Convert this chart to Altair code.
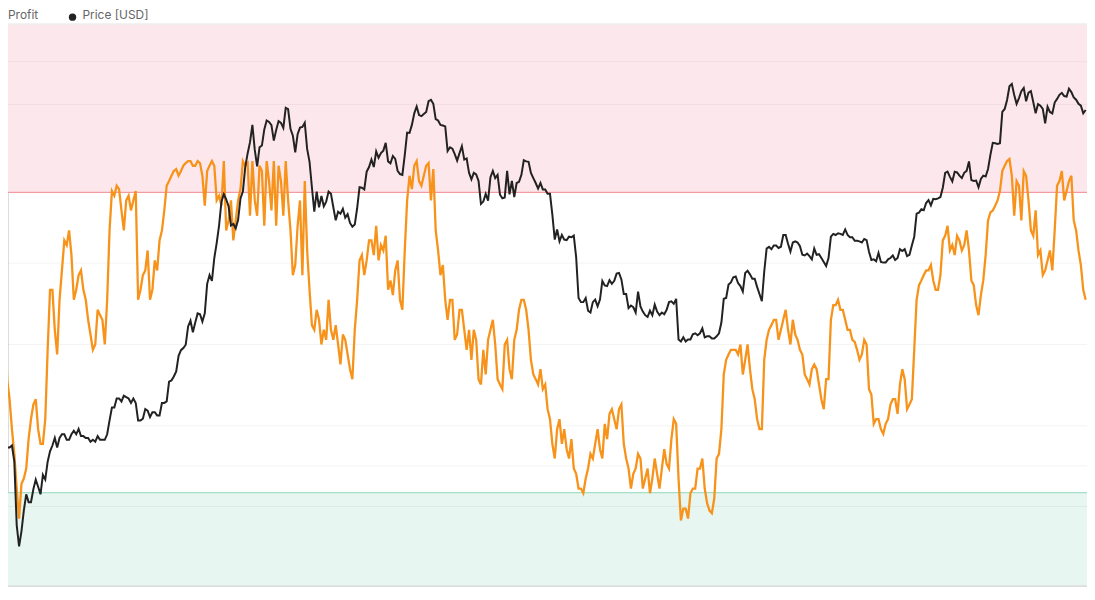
import altair as alt
import pandas as pd

# Weekly samples, starting 2020-02-16 (values at week start, and half a week later)
week_start = "2020-02-16"

price_usd = [
    10000, 9700, 8800, 8100, 4950, 6100, 6400, 6900, 7000, 7500,
    8100, 8900, 8800, 9500, 9200, 9500, 9500, 9400, 9300, 9100,
    9100, 9200, 9200, 10300, 11100, 11700, 11900, 11700, 11700, 10300,
    10400, 10900, 10800, 10600, 11400, 11500, 13000, 13700, 15500, 16000,
    18400, 18200, 19100, 19200, 24000, 26500, 32000, 38400, 35800, 32300,
    33100, 39000, 48700, 57500, 45200, 51000, 59000, 57400, 55800, 58200,
    63500, 56200, 49000, 56600, 58200, 46400, 34700, 35600, 35800, 39000,
    35600, 34700, 35300, 34200, 31800, 35400, 39900, 43800, 47000, 49300,
    48800, 51800, 46000, 47200, 43200, 48200, 54900, 61500, 60900, 61300,
    66000, 65000, 59000, 57300, 49400, 50100, 46700, 50800, 47300, 41900,
    43100, 36300, 38500, 42400, 42200, 38300, 37700, 38400, 37800, 41300,
    46800, 46400, 42200, 39700, 39500, 38500, 34100, 31300, 30300, 29400,
    29900, 26600, 20500, 21000, 19300, 20800, 20800, 22600, 23300, 23200,
    24300, 21500, 19800, 19900, 21800, 19400, 18800, 19000, 19400, 19300,
    19600, 20600, 20900, 16300, 16300, 16500, 17100, 17100, 16700, 16800,
    16600, 17100, 20900, 22700, 23700, 22900, 21800, 24600, 23500, 22400,
    20600, 28000, 27900, 28500, 28300, 30300, 27500, 29200, 28400, 26900,
    26800, 28000, 27100, 25900, 26500, 30500, 30600, 30300, 30300, 29900,
    29300, 29000, 29400, 26200, 26000, 25900, 25800, 26500, 26200, 27900,
    27900, 27000, 30000, 34500, 35000, 37100, 37400, 37500, 39900, 43800,
    41400, 43600, 42200, 44000, 41700, 41600, 42000, 42600, 48300, 51700,
    51700, 63100, 72000, 68400, 67200, 71300, 69400, 65700, 64900, 63100,
    63900, 61500, 66900, 69300, 67800, 69600, 66600, 64300, 62700,
]

price_midweek_usd = [
    10100, 8800, 8900, 5600, 5400, 6700, 6400, 7300, 6700, 7300,
    8600, 9300, 9300, 9500, 9200, 9700, 9800, 9400, 9300, 9200,
    9400, 9200, 9500, 11100, 11700, 11500, 11800, 11400, 11400, 10300,
    11000, 10500, 10800, 10600, 11400, 12900, 13300, 15000, 15700, 17800,
    17200, 19200, 18300, 22800, 23200, 28900, 36800, 37300, 32000, 31500,
    37500, 45000, 52000, 49700, 50500, 56000, 58500, 52500, 58800, 56500,
    63000, 54000, 54500, 56800, 50000, 40000, 39000, 38000, 36800, 38500,
    33000, 34300, 33500, 32500, 32200, 40000, 39500, 45000, 45000, 47500,
    49500, 46500, 48000, 44000, 43000, 55000, 57500, 64000, 60500, 62000,
    66500, 59500, 57500, 57000, 50500, 48500, 48800, 47000, 43500, 43500,
    41500, 36800, 37000, 44000, 43000, 37500, 44000, 41500, 41000, 43000,
    46500, 43500, 41000, 41000, 39500, 38500, 29500, 29200, 29500, 30000,
    30200, 21000, 20500, 19500, 20500, 20000, 23200, 22500, 22800, 24200,
    23400, 21500, 20100, 19300, 20000, 19000, 19500, 20200, 19000, 19100,
    20500, 20300, 16500, 16700, 16500, 17000, 16900, 17600, 16800, 16600,
    16800, 18200, 21000, 23000, 23800, 22500, 24300, 24100, 23500, 21500,
    24500, 28300, 28500, 28100, 30300, 28800, 29000, 29000, 27000, 27200,
    26300, 27000, 26500, 25300, 30000, 30300, 30500, 31300, 29900, 29300,
    29200, 29600, 27500, 26300, 27300, 25800, 26300, 26900, 26500, 27600,
    26800, 28500, 34300, 35200, 36500, 36000, 37300, 37800, 43500, 42500,
    43800, 42800, 43500, 46500, 41500, 40000, 42800, 44500, 51800, 51500,
    62000, 66500, 73000, 65000, 70000, 66000, 70000, 61500, 64300, 58000,
    62000, 65500, 68500, 68000, 71000, 67500, 65000, 61500,
]

supply_in_profit_pct = [
    86.3, 78.9, 64.0, 55.8, 46.1, 52.1, 58.0, 63.2, 59.5, 57.3,
    71.4, 80.4, 70.7, 83.3, 87.1, 85.6, 80.4, 83.3, 78.9, 73.7,
    72.2, 76.6, 72.2, 89.3, 94.5, 95.5, 89.3, 94.5, 93.8, 78.9,
    82.6, 86.3, 80.4, 83.3, 89.3, 96.0, 97.5, 98.5, 98.2, 99.4,
    99.7, 99.0, 99.4, 93.0, 99.0, 99.0, 94.5, 99.7, 90.8, 87.8,
    93.8, 99.7, 99.4, 99.7, 91.5, 98.2, 99.7, 92.3, 90.0, 96.7,
    99.7, 89.3, 84.1, 93.8, 96.7, 80.4, 74.4, 75.9, 74.4, 78.9,
    72.9, 72.2, 73.7, 70.7, 67.0, 78.9, 85.6, 84.8, 87.8, 90.0,
    87.1, 88.5, 81.8, 83.3, 78.9, 86.3, 97.5, 99.0, 96.7, 97.5,
    99.4, 98.5, 86.3, 84.1, 75.9, 78.9, 73.7, 77.4, 71.4, 69.9,
    72.9, 66.2, 67.7, 74.4, 72.2, 66.2, 72.2, 68.5, 72.9, 77.4,
    78.9, 74.4, 67.7, 66.2, 65.5, 62.5, 57.3, 59.5, 57.3, 56.5,
    58.0, 52.8, 50.6, 52.1, 55.8, 57.3, 56.5, 60.3, 61.8, 61.0,
    62.5, 57.3, 53.6, 52.8, 55.8, 50.6, 53.6, 52.1, 52.8, 53.6,
    54.3, 58.0, 60.3, 45.8, 47.6, 49.9, 50.6, 53.6, 50.6, 47.3,
    49.1, 55.8, 67.7, 70.7, 71.4, 70.7, 67.7, 72.2, 65.5, 61.0,
    59.5, 72.9, 75.1, 75.9, 74.4, 77.4, 72.2, 73.7, 71.4, 67.7,
    66.2, 69.2, 66.2, 62.5, 67.0, 78.1, 78.9, 77.4, 74.4, 72.9,
    71.4, 70.7, 72.2, 64.7, 61.0, 59.5, 60.3, 63.2, 64.0, 66.2,
    67.0, 63.2, 71.4, 81.1, 82.6, 83.3, 81.8, 80.4, 87.8, 90.0,
    87.1, 88.5, 86.3, 89.3, 81.8, 78.1, 79.6, 85.6, 92.0, 93.0,
    95.2, 99.0, 100.0, 91.5, 96.0, 98.2, 93.8, 88.5, 85.6, 82.6,
    84.8, 83.3, 96.0, 98.2, 95.2, 97.5, 89.3, 84.1, 78.9,
]

supply_in_profit_midweek_pct = [
    83.3, 67.0, 59.5, 50.6, 51.3, 53.6, 61.0, 64.0, 57.3, 61.0,
    80.4, 74.4, 78.9, 87.8, 89.3, 78.9, 82.6, 80.4, 75.9, 71.4,
    77.4, 75.9, 78.9, 95.2, 96.0, 92.3, 93.8, 92.3, 95.2, 80.4,
    83.3, 78.9, 84.8, 87.8, 92.3, 96.7, 98.2, 97.5, 99.0, 99.7,
    99.0, 99.7, 97.5, 98.2, 99.7, 93.8, 93.0, 89.3, 93.8, 90.8,
    95.5, 99.0, 91.5, 93.8, 99.0, 90.0, 96.7, 99.7, 99.0, 91.5,
    93.8, 82.6, 90.0, 82.6, 86.3, 75.1, 77.4, 72.2, 72.9, 74.4,
    75.1, 69.2, 72.9, 68.5, 74.4, 84.8, 82.6, 87.8, 85.6, 84.8,
    86.3, 80.4, 79.6, 84.8, 77.4, 93.8, 95.5, 99.7, 96.0, 99.0,
    93.8, 89.3, 82.6, 78.9, 78.9, 72.9, 77.4, 74.4, 74.4, 74.4,
    67.0, 71.4, 72.9, 75.9, 67.0, 65.5, 72.9, 67.0, 74.4, 78.9,
    77.4, 69.9, 67.0, 68.5, 66.2, 61.0, 55.1, 61.0, 59.5, 55.1,
    53.6, 50.6, 49.9, 53.6, 55.1, 59.5, 55.1, 58.0, 62.5, 59.5,
    63.2, 55.1, 50.6, 53.6, 55.1, 52.1, 49.9, 55.1, 50.6, 56.5,
    53.6, 61.0, 52.1, 47.6, 46.1, 50.6, 53.6, 55.1, 48.4, 46.9,
    55.1, 59.5, 69.9, 71.4, 71.4, 72.2, 69.9, 68.5, 64.0, 59.5,
    69.9, 74.4, 75.9, 72.9, 75.9, 74.4, 75.9, 72.9, 70.7, 67.0,
    68.5, 68.5, 64.0, 67.0, 75.9, 78.1, 77.4, 75.9, 74.4, 72.6,
    69.9, 72.9, 65.5, 60.3, 61.0, 58.8, 61.0, 64.0, 61.8, 68.5,
    62.5, 64.0, 78.9, 81.8, 83.3, 84.1, 80.4, 82.6, 88.5, 86.3,
    85.6, 87.8, 87.1, 86.3, 81.1, 76.6, 81.8, 90.8, 92.3, 93.8,
    98.2, 99.7, 97.5, 96.7, 90.8, 97.5, 89.3, 92.3, 86.3, 83.3,
    86.3, 89.3, 96.7, 93.8, 96.7, 90.8, 86.3, 80.4,
]

# Zones on the % supply-in-profit scale
zone_names = ["euphoria", "capitulation"]
zone_low = [95.0, 36.0]
zone_high = [120.24, 50.0]
threshold_levels = [95.0, 50.0]
grid_levels = [47.9, 54.0, 60.0, 72.2, 84.4, 108.2, 114.6]

legend_labels = ["Profit", "Price [USD]"]

W, H = 1087, 566
sip_domain = [36.0, 120.24]
price_domain = [3931, 103400]

dates = pd.date_range(week_start, periods=len(price_usd), freq="7D")
mid_dates = dates[: len(price_midweek_usd)] + pd.Timedelta(hours=84)


def interleave(main_vals, mid_vals, name):
    return pd.concat([
        pd.DataFrame({"date": dates, name: main_vals}),
        pd.DataFrame({"date": mid_dates, name: mid_vals}),
    ]).sort_values("date").reset_index(drop=True)


df_price = interleave(price_usd, price_midweek_usd, "price")
df_sip = interleave(supply_in_profit_pct, supply_in_profit_midweek_pct, "sip")

zones = pd.DataFrame({"zone": zone_names, "lo": zone_low, "hi": zone_high})
grid_df = pd.DataFrame({"level": grid_levels})
thr_df = pd.DataFrame({"level": threshold_levels, "zone": zone_names})
one = pd.DataFrame({"k": [0]})

x_enc = alt.X(
    "date:T",
    scale=alt.Scale(domain=[alt.DateTime(year=2020, month=2, date=27, hours=17),
                            alt.DateTime(year=2024, month=7, date=2)]),
    axis=None,
)
sip_scale = alt.Scale(domain=sip_domain, nice=False, zero=False)

bands = alt.Chart(zones).mark_rect().encode(
    x=alt.value(0), x2=alt.value(W),
    y=alt.Y("lo:Q", scale=sip_scale, axis=None),
    y2="hi:Q",
    color=alt.Color("zone:N", scale=alt.Scale(domain=zone_names, range=["#fce8ec", "#e7f6f0"]), legend=None),
)

grid = alt.Chart(grid_df).mark_rule(color="#000000", opacity=0.05, strokeWidth=1).encode(
    y=alt.Y("level:Q", scale=sip_scale, axis=None),
)

thresholds = alt.Chart(thr_df).mark_rule(strokeWidth=1.3).encode(
    y=alt.Y("level:Q", scale=sip_scale, axis=None),
    color=alt.Color("zone:N", scale=alt.Scale(domain=zone_names, range=["#f29aa2", "#a6dfc8"]), legend=None),
)

bottom_line = alt.Chart(one).mark_rule(color="#dddddd", strokeWidth=1.5).encode(y=alt.value(H))
top_line = alt.Chart(one).mark_rule(color="#eeeeee", strokeWidth=1.5).encode(y=alt.value(0))

sip_line = alt.Chart(df_sip).mark_line(color="#f7931a", strokeWidth=2.3, clip=True).encode(
    x=x_enc,
    y=alt.Y("sip:Q", scale=sip_scale, axis=None),
)

price_line = alt.Chart(df_price).mark_line(color="#222222", strokeWidth=2.0, clip=True).encode(
    x=x_enc,
    y=alt.Y("price:Q", scale=alt.Scale(type="log", domain=price_domain, nice=False), axis=None),
)

leg1 = alt.Chart(pd.DataFrame({"t": [legend_labels[0]]})).mark_text(
    align="left", baseline="top", font="Inter", fontSize=12, color="#666666"
).encode(text="t:N", x=alt.value(0), y=alt.value(-14))

leg2_dot = alt.Chart(one).mark_circle(color="#222222", size=55, opacity=1).encode(
    x=alt.value(65), y=alt.value(-7))

leg2 = alt.Chart(pd.DataFrame({"t": [legend_labels[1]]})).mark_text(
    align="left", baseline="top", font="Inter", fontSize=12, color="#666666"
).encode(text="t:N", x=alt.value(75), y=alt.value(-14))

chart = alt.layer(
    bands, grid, thresholds, bottom_line, top_line, sip_line, price_line,
    leg1, leg2_dot, leg2,
).resolve_scale(y="independent", color="independent").properties(
    width=W, height=H,
    autosize=alt.AutoSizeParams(type="none"),
    padding={"top": 14, "left": 0, "right": 0, "bottom": 12},
).configure_view(stroke=None).configure(background="white")

chart.save("out.html", embed_options={"renderer": "svg", "actions": False})
